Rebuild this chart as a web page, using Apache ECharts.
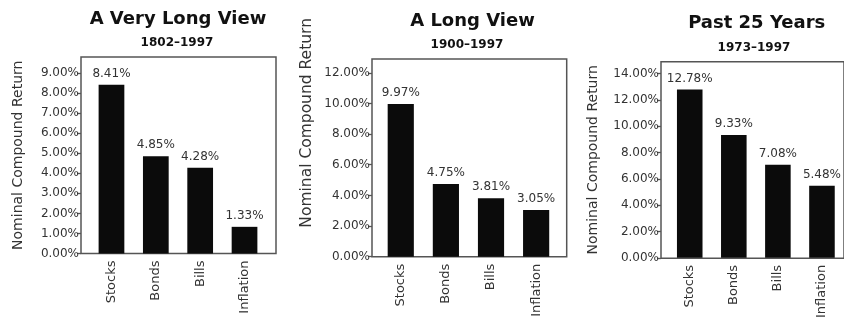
<!DOCTYPE html>
<html>
<head>
<meta charset="utf-8">
<script src="https://cdn.jsdelivr.net/npm/echarts@6/dist/echarts.min.js"></script>
<style>
  html, body { margin: 0; padding: 0; background: #fff; }
  #chart { width: 844px; height: 321px; }
</style>
</head>
<body>
<div id="chart"></div>
<script>
// Asset classes shown in every panel
var categories = ['Stocks', 'Bonds', 'Bills', 'Inflation'];

// Nominal compound annual returns (%)
var veryLongView = [8.41, 4.85, 4.28, 1.33];   // 1802–1997
var longView     = [9.97, 4.75, 3.81, 3.05];   // 1900–1997
var past25Years  = [12.78, 9.33, 7.08, 5.48];  // 1973–1997

// Y-axis tick values per panel
var ticksVeryLong = [0, 1, 2, 3, 4, 5, 6, 7, 8, 9];
var ticksLong     = [0, 2, 4, 6, 8, 10, 12];
var ticksPast25   = [0, 2, 4, 6, 8, 10, 12, 14];

var titles    = ['A Very Long View', 'A Long View', 'Past 25 Years'];
var subtitles = ['1802–1997', '1900–1997', '1973–1997'];
var yName = 'Nominal Compound Return';

var FONT = 'DejaVu Sans';
var TEXT = '#333';
var FRAME = '#555';

// Panel layout: frame box, inner plotting band, axis settings
var panels = [
  { data: veryLongView, ticks: ticksVeryLong, max: 9.8, interval: 1,
    frame: { left: 81, top: 57, width: 195, height: 196.5 },
    plotLeft: 89.3, plotWidth: 177.4,
    titleX: 178, titleTop: 10, subX: 177, subTop: 37,
    nameGap: 56, nameSize: 14, namePad: 0 },
  { data: longView, ticks: ticksLong, max: 12.9, interval: 2,
    frame: { left: 372, top: 59, width: 194.7, height: 197.7 },
    plotLeft: 378.2, plotWidth: 180.5,
    titleX: 472.5, titleTop: 12.5, subX: 467, subTop: 39,
    nameGap: 57, nameSize: 15.5, namePad: 70 },
  { data: past25Years, ticks: ticksPast25, max: 14.9, interval: 2,
    frame: { left: 661, top: 61.7, width: 195, height: 196.6 },
    plotLeft: 667.7, plotWidth: 178.4,
    titleX: 756.7, titleTop: 14, subX: 754, subTop: 41.5,
    nameGap: 61, nameSize: 14, namePad: 0 }
];

var grid = [], xAxis = [], yAxis = [], series = [], title = [];

panels.forEach(function (p, i) {
  // frame grid (draws the box)
  var fi = grid.length;
  grid.push({
    show: true, left: p.frame.left, top: p.frame.top,
    width: p.frame.width, height: p.frame.height,
    borderColor: FRAME, borderWidth: 1.5, backgroundColor: 'transparent'
  });
  xAxis.push({ gridIndex: fi, type: 'category', data: categories, show: false });
  yAxis.push({ gridIndex: fi, type: 'value', min: 0, max: p.max, show: false });

  // plotting grid
  var gi = grid.length;
  grid.push({
    left: p.plotLeft, top: p.frame.top,
    width: p.plotWidth, height: p.frame.height
  });
  xAxis.push({
    gridIndex: gi, type: 'category', data: categories,
    axisLine: { show: false }, axisTick: { show: false },
    axisLabel: { rotate: 90, margin: 7, color: TEXT, fontFamily: FONT, fontSize: 13 }
  });
  yAxis.push({
    gridIndex: gi, type: 'value', min: 0, max: p.max, interval: p.interval,
    offset: p.plotLeft - p.frame.left,
    splitLine: { show: false },
    axisLine: { show: false },
    axisTick: { show: true, length: 4, customValues: p.ticks,
                lineStyle: { color: FRAME, width: 1.3 } },
    axisLabel: {
      customValues: p.ticks, margin: 2, color: TEXT, fontFamily: FONT, fontSize: 12,
      formatter: function (v) { return v.toFixed(2) + '%'; }
    },
    name: yName, nameLocation: 'middle', nameGap: p.nameGap, nameRotate: 90,
    nameTextStyle: { color: TEXT, fontFamily: FONT, fontSize: p.nameSize,
                     padding: [0, 0, 0, p.namePad] }
  });

  series.push({
    type: 'bar', xAxisIndex: xAxis.length - 1, yAxisIndex: yAxis.length - 1,
    data: p.data, barCategoryGap: '42%',
    itemStyle: { color: '#0b0b0b' },
    label: {
      show: true, position: 'top', distance: 5, color: TEXT,
      fontFamily: FONT, fontSize: 12,
      formatter: function (d) { return d.value.toFixed(2) + '%'; }
    },
    silent: true, animation: false
  });

  title.push({
    text: titles[i], left: p.titleX, top: p.titleTop, textAlign: 'center',
    padding: 0,
    textStyle: { fontFamily: FONT, fontWeight: 'bold', fontSize: 18, color: '#111' }
  });
  title.push({
    text: subtitles[i], left: p.subX, top: p.subTop, textAlign: 'center',
    padding: 0,
    textStyle: { fontFamily: FONT, fontWeight: 'bold', fontSize: 12, color: '#111' }
  });
});

var chart = echarts.init(document.getElementById('chart'), null, { renderer: 'canvas' });
chart.setOption({
  animation: false,
  backgroundColor: '#fff',
  title: title,
  grid: grid,
  xAxis: xAxis,
  yAxis: yAxis,
  series: series
});
</script>
</body>
</html>
